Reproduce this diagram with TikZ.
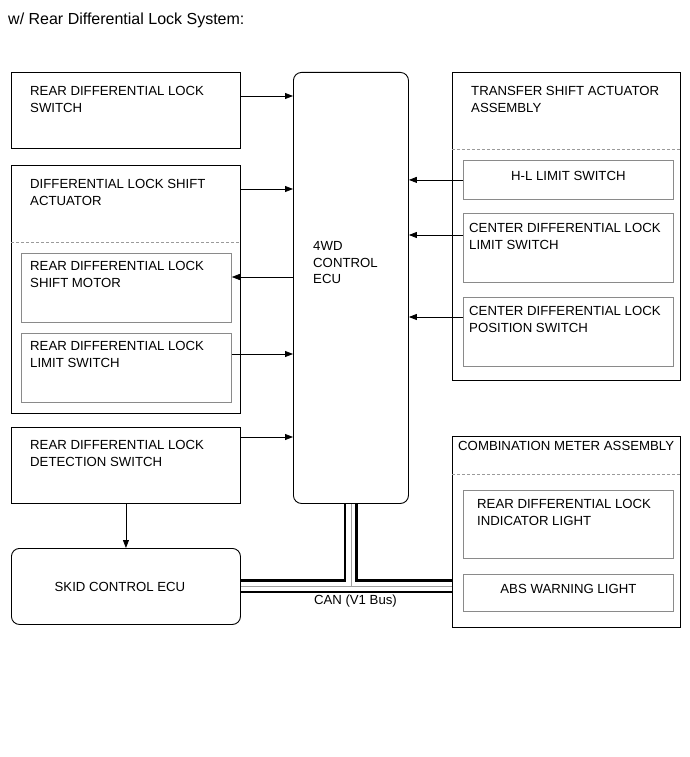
\documentclass[tikz,border=0pt]{standalone}
\usepackage{fontspec}
\setmainfont{Liberation Sans}
\usetikzlibrary{arrows.meta, positioning}

\begin{document}
\begin{tikzpicture}[
    x=1pt, y=-1pt,
    every node/.style={font=\fontsize{13.2}{16.8}\selectfont},
    outer/.style={
        draw=black,
        line width=0.9pt,
        anchor=north west,
        inner sep=0pt,
    },
    inner/.style={
        draw=innergray,
        line width=0.8pt,
        anchor=north west,
        inner sep=0pt,
    },
    ecubox/.style={
        outer,
        rounded corners=8pt,
    },
    boxtext/.style={anchor=north west, align=left, inner sep=0pt},
    sig/.style={-{Triangle[length=8pt, width=6pt]}, line width=0.8pt},
    divider/.style={draw=dashgray, dash pattern=on 3pt off 2pt, line width=0.7pt}
]

% Colors
\definecolor{innergray}{HTML}{8A8A8A}
\definecolor{dashgray}{HTML}{9A9A9A}
\definecolor{wiregray}{HTML}{A0A0A0}

% Box sizes
\def\wL{229pt}
\def\wR{228pt}
\def\wI{210pt}
\def\hS{76pt}
\def\hI{69pt}

\useasboundingbox (0,0) rectangle (690,757);

\node[anchor=west, inner sep=0pt, font=\fontsize{16}{19}\selectfont] (title) at (8,20) {w/ Rear Differential Lock System:};

% Left column
\node[outer, minimum width=\wL, minimum height=\hS] (rdls) at (11,72) {};
\node[outer, minimum width=\wL, minimum height=248pt] (dlsa) at (11,165) {};
\node[inner, minimum width=\wI, minimum height=\hI] (motor) at (21,253) {};
\node[inner, minimum width=\wI, minimum height=\hI] (limsw) at (21,333) {};
\node[outer, minimum width=\wL, minimum height=\hS] (detect) at (11,427) {};
\node[ecubox, minimum width=\wL, minimum height=\hS] (skid) at (11,548) {};

% Center ECU
\node[ecubox, minimum width=115pt, minimum height=431pt] (ecu) at (293,72) {};

% Right column
\node[outer, minimum width=\wR, minimum height=308pt] (tsa) at (452,72) {};
\node[inner, minimum width=\wI, minimum height=39pt] (hl) at (463,160) {};
\node[inner, minimum width=\wI, minimum height=\hI] (cdlimit) at (463,213) {};
\node[inner, minimum width=\wI, minimum height=\hI] (cdpos) at (463,297) {};
\node[outer, minimum width=\wR, minimum height=191pt] (meter) at (452,436) {};
\node[inner, minimum width=\wI, minimum height=68pt] (indic) at (463,490) {};
\node[inner, minimum width=\wI, minimum height=37pt] (abs) at (463,574) {};

% Dashed dividers
\draw[divider] ([yshift=-77pt]dlsa.north west) -- ([yshift=-77pt]dlsa.north east);
\draw[divider] ([yshift=-77pt]tsa.north west) -- ([yshift=-77pt]tsa.north east);
\draw[divider] ([yshift=-38pt]meter.north west) -- ([yshift=-38pt]meter.north east);

% Box texts
\node[boxtext] at ([xshift=19pt, yshift=-14pt]rdls.north west) {REAR DIFFERENTIAL LOCK\\SWITCH};
\node[boxtext] at ([xshift=19pt, yshift=-14pt]dlsa.north west) {DIFFERENTIAL LOCK SHIFT\\ACTUATOR};
\node[boxtext] at ([xshift=9pt, yshift=-8pt]motor.north west) {REAR DIFFERENTIAL LOCK\\SHIFT MOTOR};
\node[boxtext] at ([xshift=9pt, yshift=-8pt]limsw.north west) {REAR DIFFERENTIAL LOCK\\LIMIT SWITCH};
\node[boxtext] at ([xshift=19pt, yshift=-13pt]detect.north west) {REAR DIFFERENTIAL LOCK\\DETECTION SWITCH};
\node at ([xshift=-6pt]skid.center) {SKID CONTROL ECU};
\node[boxtext] at ([xshift=20pt, yshift=-169pt]ecu.north west) {4WD\\CONTROL\\ECU};
\node[boxtext] at ([xshift=19pt, yshift=-14pt]tsa.north west) {TRANSFER SHIFT ACTUATOR\\ASSEMBLY};
\node at ([yshift=4pt]hl.center) {H-L LIMIT SWITCH};
\node[boxtext] at ([xshift=6pt, yshift=-10pt]cdlimit.north west) {CENTER DIFFERENTIAL LOCK\\LIMIT SWITCH};
\node[boxtext] at ([xshift=6pt, yshift=-9pt]cdpos.north west) {CENTER DIFFERENTIAL LOCK\\POSITION SWITCH};
\node[boxtext] at ([xshift=6pt, yshift=-5pt]meter.north west) {COMBINATION METER ASSEMBLY};
\node[boxtext] at ([xshift=14pt, yshift=-9pt]indic.north west) {REAR DIFFERENTIAL LOCK\\INDICATOR LIGHT};
\node at ([yshift=4pt]abs.center) {ABS WARNING LIGHT};

% Signal arrows
\coordinate (rdlsOut) at ([yshift=-24pt]rdls.north east);
\coordinate (dlsaOut) at ([yshift=-24pt]dlsa.north east);
\coordinate (motorIn) at ([yshift=-24pt]motor.north east);
\coordinate (limswOut) at ([yshift=-21pt]limsw.north east);
\coordinate (detectOut) at ([yshift=-10pt]detect.north east);
\coordinate (cdlimitOut) at ([yshift=-22pt]cdlimit.north west);
\coordinate (cdposOut) at ([yshift=-20pt]cdpos.north west);

\draw[sig] (rdlsOut) -- (rdlsOut -| ecu.west);
\draw[sig] (dlsaOut) -- (dlsaOut -| ecu.west);
\draw[sig] (motorIn -| ecu.west) -- (motorIn);
\draw[sig] (limswOut) -- (limswOut -| ecu.west);
\draw[sig] (detectOut) -- (detectOut -| ecu.west);
\draw[sig] (hl.west) -- (hl.west -| ecu.east);
\draw[sig] (cdlimitOut) -- (cdlimitOut -| ecu.east);
\draw[sig] (cdposOut) -- (cdposOut -| ecu.east);
\draw[sig] (detect.south) -- (skid.north);

% CAN bus
\coordinate (tee) at (ecu.south |- skid.east);
\foreach \w/\c in {14pt/black, 9pt/white, 0.8pt/wiregray} {
    \draw[line width=\w, \c, shorten <=0.5pt, shorten >=0.5pt] (skid.east) -- (skid.east -| meter.west);
    \draw[line width=\w, \c, shorten <=0.5pt] (ecu.south) -- (tee);
}
\node (can) at ([xshift=4.5pt, yshift=-15pt]tee) {CAN (V1 Bus)};

\end{tikzpicture}
\end{document}
